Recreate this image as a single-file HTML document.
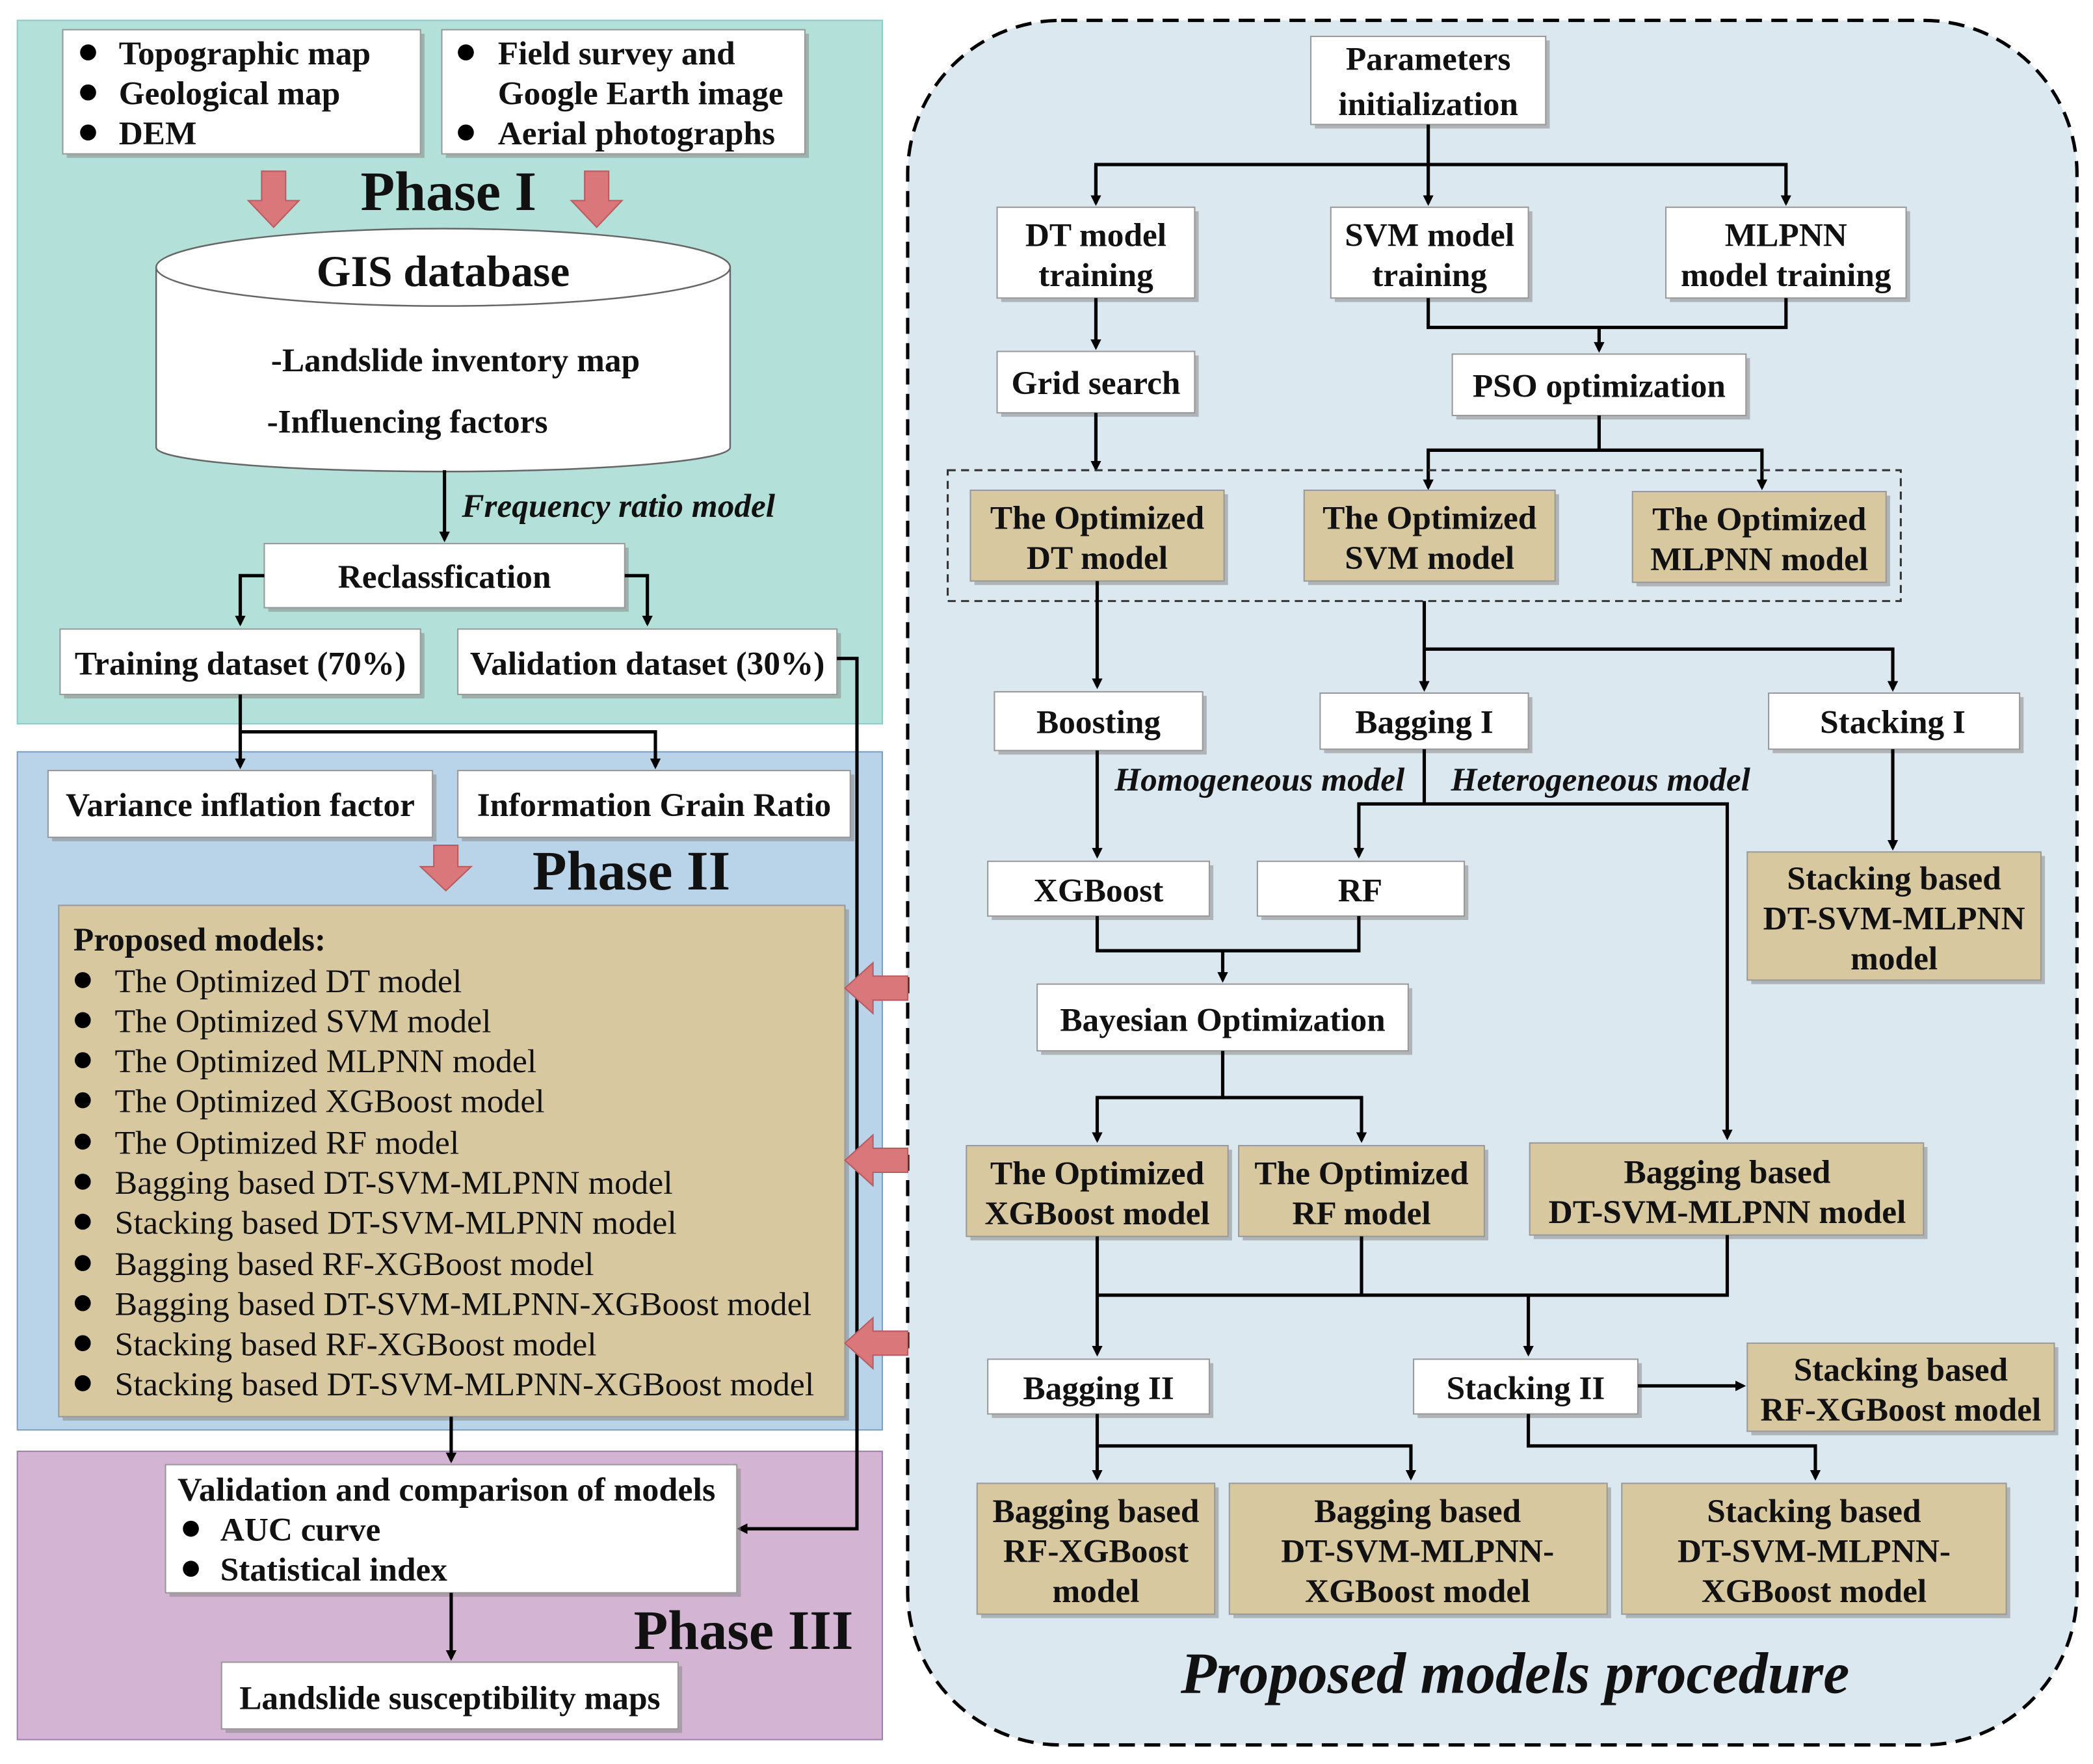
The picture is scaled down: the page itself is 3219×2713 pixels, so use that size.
<!DOCTYPE html>
<html><head><meta charset="utf-8"><style>
html,body{margin:0;padding:0;background:#fff;}
svg{display:block;}
text{font-family:"Liberation Serif",serif;font-weight:bold;fill:#111;font-size:25px;}
.n{font-weight:normal;}
.c{text-anchor:middle;}
.it{font-style:italic;}
.box{fill:#fff;stroke:#999;stroke-width:1;}
.tan{fill:#d8c8a0;stroke:#999;stroke-width:1;}
.sh{fill:#888;opacity:.55;}
.ln{stroke:#000;stroke-width:2.5;fill:none;}
.pk{fill:#d9777a;stroke:#b85c60;stroke-width:1;}
</style></head><body>
<svg width="3219" height="2713" viewBox="0 0 1568 1321" xmlns="http://www.w3.org/2000/svg">
<defs><marker id="a" markerWidth="8" markerHeight="8" refX="6" refY="4" orient="auto" markerUnits="userSpaceOnUse"><path d="M0,0 L8,4 L0,8 z" fill="#000"/></marker></defs>
<rect x="13" y="15" width="648" height="527" fill="#b3e0d8" stroke="#8cc" stroke-width="1"/>
<rect x="13" y="563" width="648" height="508" fill="#b9d3e8" stroke="#7aa0c8" stroke-width="1"/>
<rect x="13" y="1087" width="648" height="216" fill="#d3b4d3" stroke="#a080b0" stroke-width="1"/>
<rect x="680" y="15" width="876" height="1292" rx="115" fill="#dce8f0" stroke="#000" stroke-width="2.5" stroke-dasharray="12,7"/>

<!-- Phase I -->
<rect class="sh" x="50" y="25" width="268" height="93"/><rect class="box" x="47" y="22" width="268" height="93"/>
<circle cx="66" cy="39" r="6"/><circle cx="66" cy="69" r="6"/><circle cx="66" cy="99" r="6"/>
<text x="89" y="48">Topographic map</text><text x="89" y="78">Geological map</text><text x="89" y="108">DEM</text>
<rect class="sh" x="334" y="25" width="272" height="93"/><rect class="box" x="331" y="22" width="272" height="93"/>
<circle cx="349" cy="39" r="6"/><circle cx="349" cy="99" r="6"/>
<text x="373" y="48">Field survey and</text><text x="373" y="78">Google Earth image</text><text x="373" y="108">Aerial photographs</text>
<path class="pk" d="M196,128 h18 v22 h10 l-19,20 l-19,-20 h10 z"/>
<path class="pk" d="M438,128 h18 v22 h10 l-19,20 l-19,-20 h10 z"/>
<text class="c" x="336" y="157" style="font-size:42px">Phase I</text>
<path d="M117,200 v135 a215,18 0 0 0 430,0 v-135" fill="#fff" stroke="#666" stroke-width="1.2"/>
<ellipse cx="332" cy="200" rx="215" ry="29" fill="#fff" stroke="#666" stroke-width="1.2"/>
<text class="c" x="332" y="214" style="font-size:33px">GIS database</text>
<text x="203" y="278">-Landslide inventory map</text>
<text x="200" y="324">-Influencing factors</text>
<line class="ln" x1="333" y1="352" x2="333" y2="404" marker-end="url(#a)"/>
<text class="it" x="346" y="387">Frequency ratio model</text>
<rect class="sh" x="201" y="410" width="270" height="48"/><rect class="box" x="198" y="407" width="270" height="48"/>
<text class="c" x="333" y="440">Reclassfication</text>
<path class="ln" d="M198,431 H180 V467" marker-end="url(#a)"/><path class="ln" d="M468,431 H485 V467" marker-end="url(#a)"/>
<rect class="sh" x="48" y="474" width="270" height="49"/><rect class="box" x="45" y="471" width="270" height="49"/>
<text class="c" x="180" y="505">Training dataset (70%)</text>
<rect class="sh" x="346" y="474" width="284" height="49"/><rect class="box" x="343" y="471" width="284" height="49"/>
<text class="c" x="485" y="505">Validation dataset (30%)</text>
<path class="ln" d="M627,493 H642 V1145 H554" marker-end="url(#a)"/>
<path class="ln" d="M180,520 V574" marker-end="url(#a)"/><path class="ln" d="M180,548 H491 V574" marker-end="url(#a)"/>

<!-- Phase II -->
<rect class="sh" x="39" y="580" width="288" height="50"/><rect class="box" x="36" y="577" width="288" height="50"/>
<text class="c" x="180" y="611">Variance inflation factor</text>
<rect class="sh" x="346" y="580" width="294" height="50"/><rect class="box" x="343" y="577" width="294" height="50"/>
<text class="c" x="490" y="611">Information Grain Ratio</text>
<path class="pk" d="M325,633 h18 v16 h10 l-19,18 l-19,-18 h10 z"/>
<text class="c" x="473" y="666" style="font-size:42px">Phase II</text>
<rect class="sh" x="47" y="681" width="589" height="383"/><rect class="tan" x="44" y="678" width="589" height="383"/>
<text x="55" y="712">Proposed models:</text>
<circle cx="62" cy="734" r="6"/><text class="n" x="86" y="743" textLength="260" lengthAdjust="spacingAndGlyphs">The Optimized DT model</text>
<circle cx="62" cy="764" r="6"/><text class="n" x="86" y="773" textLength="282" lengthAdjust="spacingAndGlyphs">The Optimized SVM model</text>
<circle cx="62" cy="794" r="6"/><text class="n" x="86" y="803" textLength="316" lengthAdjust="spacingAndGlyphs">The Optimized MLPNN model</text>
<circle cx="62" cy="824" r="6"/><text class="n" x="86" y="833" textLength="322" lengthAdjust="spacingAndGlyphs">The Optimized XGBoost model</text>
<circle cx="62" cy="855" r="6"/><text class="n" x="86" y="864" textLength="258" lengthAdjust="spacingAndGlyphs">The Optimized RF model</text>
<circle cx="62" cy="885" r="6"/><text class="n" x="86" y="894" textLength="418" lengthAdjust="spacingAndGlyphs">Bagging based DT-SVM-MLPNN model</text>
<circle cx="62" cy="915" r="6"/><text class="n" x="86" y="924" textLength="421" lengthAdjust="spacingAndGlyphs">Stacking based DT-SVM-MLPNN model</text>
<circle cx="62" cy="946" r="6"/><text class="n" x="86" y="955" textLength="359" lengthAdjust="spacingAndGlyphs">Bagging based RF-XGBoost model</text>
<circle cx="62" cy="976" r="6"/><text class="n" x="86" y="985" textLength="522" lengthAdjust="spacingAndGlyphs">Bagging based DT-SVM-MLPNN-XGBoost model</text>
<circle cx="62" cy="1006" r="6"/><text class="n" x="86" y="1015" textLength="361" lengthAdjust="spacingAndGlyphs">Stacking based RF-XGBoost model</text>
<circle cx="62" cy="1036" r="6"/><text class="n" x="86" y="1045" textLength="524" lengthAdjust="spacingAndGlyphs">Stacking based DT-SVM-MLPNN-XGBoost model</text>
<path class="pk" d="M680,731 h-26 v-10 l-21,19 l21,19 v-10 h26 z"/>
<path class="pk" d="M680,860 h-26 v-10 l-21,19 l21,19 v-10 h26 z"/>
<path class="pk" d="M680,997 h-26 v-10 l-21,19 l21,19 v-10 h26 z"/>

<!-- Phase III -->
<path class="ln" d="M338,1061 V1094" marker-end="url(#a)"/>
<rect class="sh" x="127" y="1100" width="428" height="96"/><rect class="box" x="124" y="1097" width="428" height="96"/>
<text x="133" y="1124" textLength="403" lengthAdjust="spacingAndGlyphs">Validation and comparison of models</text>
<circle cx="143" cy="1145" r="6"/><text x="165" y="1154">AUC curve</text>
<circle cx="143" cy="1175" r="6"/><text x="165" y="1184">Statistical index</text>
<path class="ln" d="M338,1193 V1242" marker-end="url(#a)"/>
<text class="c" x="557" y="1235" style="font-size:42px">Phase III</text>
<rect class="sh" x="169" y="1248" width="342" height="50"/><rect class="box" x="166" y="1245" width="342" height="50"/>
<text class="c" x="337" y="1280">Landslide susceptibility maps</text>

<!-- Right procedure -->
<rect class="sh" x="985" y="30" width="176" height="66"/><rect class="box" x="982" y="27" width="176" height="66"/>
<text class="c" x="1070" y="52">Parameters</text><text class="c" x="1070" y="86">initialization</text>
<path class="ln" d="M1070,93 V152" marker-end="url(#a)"/><path class="ln" d="M821,152 V123 H1338 V152" marker-end="url(#a)"/>
<line class="ln" x1="821" y1="124" x2="821" y2="152" marker-end="url(#a)"/>
<rect class="sh" x="750" y="158" width="148" height="68"/><rect class="box" x="747" y="155" width="148" height="68"/>
<text class="c" x="821" y="184">DT model</text><text class="c" x="821" y="214">training</text>
<rect class="sh" x="1000" y="158" width="148" height="68"/><rect class="box" x="997" y="155" width="148" height="68"/>
<text class="c" x="1071" y="184">SVM model</text><text class="c" x="1071" y="214">training</text>
<rect class="sh" x="1251" y="158" width="180" height="68"/><rect class="box" x="1248" y="155" width="180" height="68"/>
<text class="c" x="1338" y="184">MLPNN</text><text class="c" x="1338" y="214">model training</text>
<path class="ln" d="M821,223 V260" marker-end="url(#a)"/>
<rect class="sh" x="750" y="266" width="148" height="46"/><rect class="box" x="747" y="263" width="148" height="46"/>
<text class="c" x="821" y="295">Grid search</text>
<path class="ln" d="M1070,223 V245 H1338 V223"/><path class="ln" d="M1198,245 V262" marker-end="url(#a)"/>
<rect class="sh" x="1091" y="268" width="220" height="46"/><rect class="box" x="1088" y="265" width="220" height="46"/>
<text class="c" x="1198" y="297">PSO optimization</text>
<path class="ln" d="M821,309 V351" marker-end="url(#a)"/>
<path class="ln" d="M1198,311 V337 H1070 V365" marker-end="url(#a)"/><path class="ln" d="M1198,337 H1320 V365" marker-end="url(#a)"/>
<rect x="710" y="352" width="714" height="98" fill="none" stroke="#333" stroke-width="1.5" stroke-dasharray="6,4"/>
<rect class="sh" x="730" y="370" width="190" height="68"/><rect class="tan" x="727" y="367" width="190" height="68"/>
<text class="c" x="822" y="396">The Optimized</text><text class="c" x="822" y="426">DT model</text>
<rect class="sh" x="980" y="370" width="188" height="68"/><rect class="tan" x="977" y="367" width="188" height="68"/>
<text class="c" x="1071" y="396">The Optimized</text><text class="c" x="1071" y="426">SVM model</text>
<rect class="sh" x="1226" y="371" width="190" height="68"/><rect class="tan" x="1223" y="368" width="190" height="68"/>
<text class="c" x="1318" y="397">The Optimized</text><text class="c" x="1318" y="427">MLPNN model</text>
<path class="ln" d="M822,435 V514" marker-end="url(#a)"/>
<path class="ln" d="M1067,450 V516" marker-end="url(#a)"/><path class="ln" d="M1067,486 H1418 V516" marker-end="url(#a)"/>
<rect class="sh" x="748" y="521" width="156" height="44"/><rect class="box" x="745" y="518" width="156" height="44"/>
<text class="c" x="823" y="549">Boosting</text>
<rect class="sh" x="992" y="522" width="156" height="42"/><rect class="box" x="989" y="519" width="156" height="42"/>
<text class="c" x="1067" y="549">Bagging I</text>
<rect class="sh" x="1328" y="522" width="188" height="42"/><rect class="box" x="1325" y="519" width="188" height="42"/>
<text class="c" x="1418" y="549">Stacking I</text>
<path class="ln" d="M822,562 V641" marker-end="url(#a)"/>
<text class="it" x="835" y="592">Homogeneous model</text>
<text class="it" x="1087" y="592">Heterogeneous model</text>
<path class="ln" d="M1067,561 V602 H1018 V641" marker-end="url(#a)"/><path class="ln" d="M1067,602 H1294 V852" marker-end="url(#a)"/>
<path class="ln" d="M1418,561 V635" marker-end="url(#a)"/>
<rect class="sh" x="1312" y="641" width="220" height="96"/><rect class="tan" x="1309" y="638" width="220" height="96"/>
<text class="c" x="1419" y="666">Stacking based</text><text class="c" x="1419" y="696">DT-SVM-MLPNN</text><text class="c" x="1419" y="726">model</text>
<rect class="sh" x="743" y="648" width="166" height="41"/><rect class="box" x="740" y="645" width="166" height="41"/>
<text class="c" x="823" y="675">XGBoost</text>
<rect class="sh" x="945" y="648" width="155" height="41"/><rect class="box" x="942" y="645" width="155" height="41"/>
<text class="c" x="1019" y="675">RF</text>
<path class="ln" d="M822,686 V712 H1018 V686"/><path class="ln" d="M916,712 V734" marker-end="url(#a)"/>
<rect class="sh" x="780" y="740" width="278" height="50"/><rect class="box" x="777" y="737" width="278" height="50"/>
<text class="c" x="916" y="772">Bayesian Optimization</text>
<path class="ln" d="M916,787 V822 H822 V854" marker-end="url(#a)"/><path class="ln" d="M916,822 H1020 V854" marker-end="url(#a)"/>
<rect class="sh" x="727" y="861" width="196" height="68"/><rect class="tan" x="724" y="858" width="196" height="68"/>
<text class="c" x="822" y="887">The Optimized</text><text class="c" x="822" y="917">XGBoost model</text>
<rect class="sh" x="931" y="861" width="184" height="68"/><rect class="tan" x="928" y="858" width="184" height="68"/>
<text class="c" x="1020" y="887">The Optimized</text><text class="c" x="1020" y="917">RF model</text>
<rect class="sh" x="1149" y="859" width="295" height="69"/><rect class="tan" x="1146" y="856" width="295" height="69"/>
<text class="c" x="1294" y="886">Bagging based</text><text class="c" x="1294" y="916">DT-SVM-MLPNN model</text>
<path class="ln" d="M822,926 V1014" marker-end="url(#a)"/><path class="ln" d="M822,970 H1294 V925"/><path class="ln" d="M1020,926 V970"/>
<path class="ln" d="M1145,970 V1014" marker-end="url(#a)"/>
<rect class="sh" x="743" y="1021" width="166" height="41"/><rect class="box" x="740" y="1018" width="166" height="41"/>
<text class="c" x="823" y="1048">Bagging II</text>
<rect class="sh" x="1062" y="1021" width="168" height="41"/><rect class="box" x="1059" y="1018" width="168" height="41"/>
<text class="c" x="1143" y="1048">Stacking II</text>
<path class="ln" d="M1227,1038 H1306" marker-end="url(#a)"/>
<rect class="sh" x="1312" y="1009" width="230" height="66"/><rect class="tan" x="1309" y="1006" width="230" height="66"/>
<text class="c" x="1424" y="1034">Stacking based</text><text class="c" x="1424" y="1064">RF-XGBoost model</text>
<path class="ln" d="M822,1059 V1107" marker-end="url(#a)"/><path class="ln" d="M822,1083 H1057 V1107" marker-end="url(#a)"/>
<path class="ln" d="M1145,1059 V1083 H1360 V1107" marker-end="url(#a)"/>
<rect class="sh" x="735" y="1114" width="178" height="98"/><rect class="tan" x="732" y="1111" width="178" height="98"/>
<text class="c" x="821" y="1140">Bagging based</text><text class="c" x="821" y="1170">RF-XGBoost</text><text class="c" x="821" y="1200">model</text>
<rect class="sh" x="924" y="1114" width="283" height="98"/><rect class="tan" x="921" y="1111" width="283" height="98"/>
<text class="c" x="1062" y="1140">Bagging based</text><text class="c" x="1062" y="1170">DT-SVM-MLPNN-</text><text class="c" x="1062" y="1200">XGBoost model</text>
<rect class="sh" x="1218" y="1114" width="288" height="98"/><rect class="tan" x="1215" y="1111" width="288" height="98"/>
<text class="c" x="1359" y="1140">Stacking based</text><text class="c" x="1359" y="1170">DT-SVM-MLPNN-</text><text class="c" x="1359" y="1200">XGBoost model</text>
<text class="c it" x="1135" y="1268" style="font-size:44px">Proposed models procedure</text>
</svg>
</body></html>
